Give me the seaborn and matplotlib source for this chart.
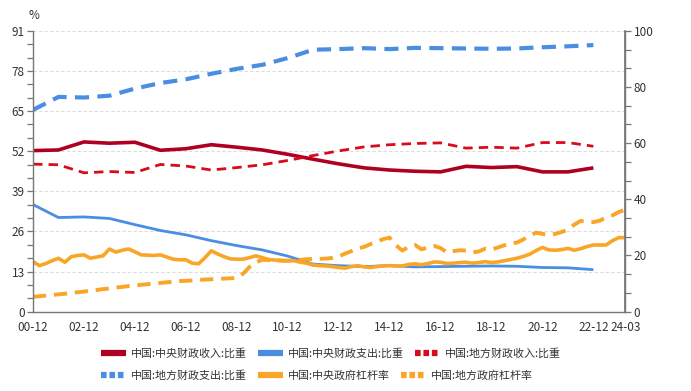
import numpy as np
import pandas as pd
import matplotlib
matplotlib.use("Agg")
import matplotlib.pyplot as plt
from matplotlib.lines import Line2D
import seaborn as sns

sns.set_theme(style="white")
plt.rcParams['font.family'] = ['Noto Sans CJK SC', 'DejaVu Sans']
plt.rcParams['axes.unicode_minus'] = False

# ---------------- data ----------------
fiscal_years = list(range(2000, 2023))
central_revenue = [52.2, 52.4, 55.0, 54.6, 54.9, 52.3, 52.8, 54.1, 53.3, 52.4, 51.0, 49.4,
                   47.9, 46.6, 45.9, 45.5, 45.3, 47.1, 46.7, 47.0, 45.3, 45.3, 46.6]
central_expend = [34.7, 30.5, 30.7, 30.2, 28.2, 26.3, 24.9, 23.0, 21.4, 20.0, 18.0, 15.4,
                  14.9, 14.6, 14.9, 14.5, 14.6, 14.7, 14.8, 14.7, 14.3, 14.2, 13.6]
local_revenue = [47.8, 47.6, 45.0, 45.4, 45.1, 47.7, 47.2, 45.9, 46.7, 47.6, 49.0, 50.6,
                 52.1, 53.4, 54.1, 54.5, 54.7, 53.0, 53.3, 53.0, 54.8, 54.8, 53.6]
local_expend = [65.4, 69.6, 69.4, 70.0, 72.3, 74.1, 75.3, 77.1, 78.7, 80.0, 82.2, 84.9,
                85.1, 85.4, 85.1, 85.5, 85.4, 85.3, 85.2, 85.3, 85.7, 86.0, 86.4]

quarters = [str(p) for p in pd.period_range('2000Q4', '2024Q1', freq='Q')]
central_leverage = [
    16.2, 14.9, 15.6, 16.5, 17.3, 16.0, 17.8, 18.2, 18.4, 17.3, 17.7, 18.1,
    20.3, 19.3, 19.9, 20.3, 19.4, 18.4, 18.3, 18.2, 18.4, 17.7, 17.0, 16.8,
    16.8, 15.7, 15.5, 17.5, 19.7, 18.7, 17.8, 17.1, 17.0, 17.0, 17.5, 18.1,
    17.5, 16.9, 16.7, 16.6, 16.5, 16.5, 16.0, 15.7, 15.1, 14.9, 14.8, 14.6,
    14.3, 14.1, 14.6, 14.9, 14.5, 14.3, 14.6, 14.8, 14.9, 14.8, 14.8, 15.3,
    15.5, 15.2, 15.6, 16.1, 16.0, 15.6, 15.7, 15.9, 16.0, 15.7, 15.9, 16.2,
    15.9, 16.1, 16.5, 16.9, 17.3, 17.9, 18.6, 19.8, 20.8, 20.0, 19.9, 20.1,
    20.5, 19.9, 20.4, 21.1, 21.6, 21.6, 21.6, 23.0, 24.0, 24.0]
local_leverage = [
    4.8, 5.0, 5.2, 5.4, 5.6, 5.8, 6.0, 6.3, 6.5, 6.8, 7.0, 7.3,
    7.5, 7.8, 8.0, 8.3, 8.5, 8.7, 8.9, 9.1, 9.3, 9.5, 9.7, 9.9,
    10.0, 10.1, 10.3, 10.4, 10.5, 10.6, 10.7, 10.8, 10.9, 12.3, 14.5, 16.0,
    16.8, 16.7, 16.6, 16.5, 16.5, 16.6, 16.8, 17.0, 17.1, 17.1, 17.2, 17.4,
    17.9, 18.8, 19.6, 20.4, 21.0, 21.9, 22.7, 23.5, 24.0, 21.5, 19.8, 21.0,
    21.6, 20.2, 20.8, 21.3, 20.6, 19.2, 19.6, 19.9, 19.8, 19.2, 19.5, 20.4,
    20.1, 20.8, 21.5, 22.0, 22.4, 23.4, 24.6, 25.6, 25.2, 24.8, 25.2, 25.8,
    26.6, 28.2, 29.4, 29.1, 29.0, 29.5, 30.5, 31.2, 32.3, 33.0]

x_labels = ['00-12', '02-12', '04-12', '06-12', '08-12', '10-12', '12-12',
            '14-12', '16-12', '18-12', '20-12', '22-12', '24-03']

names = ['中国:中央财政收入:比重', '中国:中央财政支出:比重', '中国:地方财政收入:比重',
         '中国:地方财政支出:比重', '中国:中央政府杠杆率', '中国:地方政府杠杆率']

# ---------------- frames ----------------
base = pd.Period('2000-12', freq='M')
fiscal = pd.DataFrame({
    'm': [(y - 2000) * 12 for y in fiscal_years],
    'cr': central_revenue, 'ce': central_expend,
    'lr': local_revenue, 'le': local_expend})
qdf = pd.DataFrame({
    'm': [(pd.Period(q, freq='Q').asfreq('M', 'end') - base).n for q in quarters],
    'cl': central_leverage, 'll': local_leverage})

C_DRED = '#AE0020'
C_BLUE = '#4A8EE3'
C_RED = '#DA0A1E'
C_ORANGE = '#F9A628'

fig = plt.figure(figsize=(6.91, 3.91), dpi=100)
ax = fig.add_axes([0.0478, 0.203, 0.857, 0.718])

specs = [
    (fiscal, 'cr', C_DRED, 2.6, None),
    (fiscal, 'ce', C_BLUE, 2.0, None),
    (fiscal, 'lr', C_RED, 2.0, (3.4, 2.2)),
    (fiscal, 'le', C_BLUE, 3.0, (3.4, 2.0)),
    (qdf, 'cl', C_ORANGE, 2.6, None),
    (qdf, 'll', C_ORANGE, 2.8, (3.4, 2.0)),
]
for df, col, c, lw, dash in specs:
    sns.lineplot(data=df, x='m', y=col, ax=ax, color=c, linewidth=lw)
    ln = ax.lines[-1]
    ln.set_solid_capstyle('butt')
    if dash is not None:
        ln.set_dashes(dash)
        ln.set_dash_capstyle('butt')

ax.set_xlim(0, 279)
ax.set_ylim(0, 91)
ax.set_xlabel('')
ax.set_ylabel('')

# x ticks
major_x = list(range(0, 265, 24)) + [279]
ax.set_xticks(major_x)
ax.set_xticklabels(x_labels)
ax.set_xticks(list(range(12, 277, 24)), minor=True)

# y ticks left
yt = np.linspace(0, 91, 22)
ax.set_yticks(yt)
ax.set_yticklabels([f'{v:.0f}' if i % 3 == 0 else '' for i, v in enumerate(yt)])
for v in range(13, 92, 13):
    ax.axhline(v, color='#dcdcdc', lw=0.8, ls=(0, (3, 2)), zorder=0)

spine_c = '#777777'
for s in ['top']:
    ax.spines[s].set_visible(False)
for s in ['left', 'bottom', 'right']:
    ax.spines[s].set_color(spine_c)
    ax.spines[s].set_linewidth(1.0)

ax.tick_params(axis='both', which='both', direction='out', length=4, width=0.9,
               color=spine_c, labelsize=8.5, labelcolor='#333333', pad=2)
ax.tick_params(axis='x', which='both', length=5)

ax2 = ax.twinx()
ax2.set_ylim(0, 100)
rt = np.linspace(0, 100, 16)
ax2.set_yticks(rt)
ax2.set_yticklabels([f'{v:.0f}' if i % 3 == 0 else '' for i, v in enumerate(rt)])
ax2.tick_params(axis='y', direction='out', length=4, width=0.9, color=spine_c,
                labelsize=8.5, labelcolor='#333333', pad=2)
ax2.grid(False)
ax.grid(False)
for s in ['top', 'left', 'bottom']:
    ax2.spines[s].set_visible(False)
ax2.spines['right'].set_color(spine_c)

fig.text(0.041, 0.952, '%', fontsize=8.5, color='#333333')

# legends (two rows, flow-like)
def handle(c, dashed):
    if dashed:
        return Line2D([], [], color=c, lw=4.5, dashes=(0.9, 0.45), dash_capstyle='butt')
    return Line2D([], [], color=c, lw=4.5, solid_capstyle='butt')

row1 = [handle(C_DRED, False), handle(C_BLUE, False), handle(C_RED, True)]
row2 = [handle(C_BLUE, True), handle(C_ORANGE, False), handle(C_ORANGE, True)]
kw = dict(ncol=3, frameon=False, fontsize=7.9, handlelength=2.3, handletextpad=0.45,
          columnspacing=1.0, borderpad=0, borderaxespad=0, loc='center left',
          bbox_transform=fig.transFigure, labelcolor='#333333')
leg1 = fig.legend(row1, names[:3], bbox_to_anchor=(0.146, 0.096), **kw)
leg2 = fig.legend(row2, names[3:], bbox_to_anchor=(0.146, 0.040), **kw)

fig.savefig('out.png', dpi=100)
